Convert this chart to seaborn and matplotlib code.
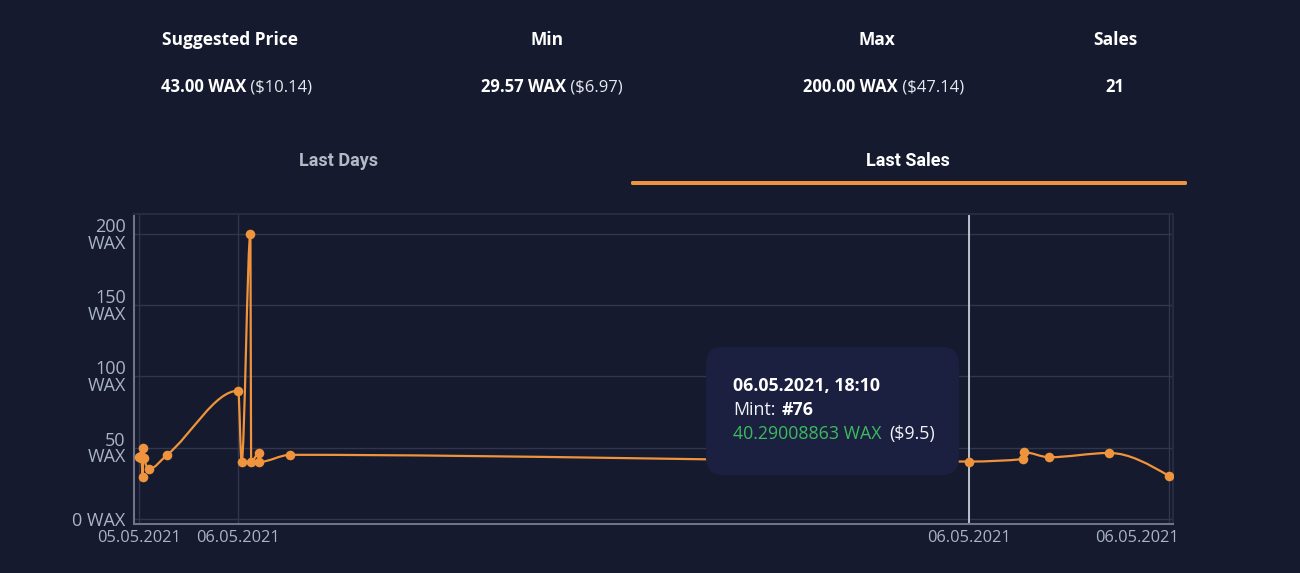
import numpy as np
import pandas as pd
import seaborn as sns
import matplotlib
matplotlib.use("Agg")
from matplotlib import pyplot as plt
import matplotlib.dates as mdates
from matplotlib.path import Path
from matplotlib.patches import PathPatch, FancyBboxPatch
from matplotlib.transforms import IdentityTransform, ScaledTranslation

###############################################################################
# Data

sale_times = ["2021-05-05 21:43", "2021-05-05 21:46", "2021-05-05 21:47",
              "2021-05-05 21:49", "2021-05-05 21:50", "2021-05-05 21:51",
              "2021-05-05 21:58", "2021-05-05 22:25", "2021-05-06 00:10",
              "2021-05-06 00:15", "2021-05-06 00:28", "2021-05-06 00:29",
              "2021-05-06 00:40", "2021-05-06 00:41", "2021-05-06 01:27",
              "2021-05-06 18:10", "2021-05-06 19:30", "2021-05-06 19:31",
              "2021-05-06 20:08", "2021-05-06 21:37", "2021-05-06 23:05"]
sale_prices = [43.5, 44.5, 42.5, 29.57, 50.0, 43.0, 35.0, 45.0, 90.0, 40.0,
               200.0, 40.0, 46.0, 40.0, 45.0, 40.29, 42.0, 46.8, 43.3, 46.3,
               30.2]

x_tick_index = [0, 8, 15, 20]
hover_index = 15
y_ticks = [0, 50, 100, 150, 200]
y_tick_labels = ["0 WAX", "50\nWAX", "100\nWAX", "150\nWAX", "200\nWAX"]
x_limits = ["2021-05-05 21:36", "2021-05-06 23:11"]
y_limits = [-3.2, 214]

stat_titles = ["Suggested Price", "Min", "Max", "Sales"]
stat_bold = ["43.00 WAX", "29.57 WAX", "200.00 WAX", "21"]
stat_usd = [" ($10.14)", " ($6.97)", " ($47.14)", ""]
tabs = ["Last Days", "Last Sales"]

tooltip_date = "06.05.2021, 18:10"
tooltip_mint = "#76"
tooltip_wax = "40.29008863 WAX"
tooltip_usd = "($9.5)"

###############################################################################
BG = "#151a2e"
ORANGE = "#ef943c"
TICK_C = "#a9b3c9"
GRID_C = "#30364d"

sns.set_theme(style="dark")
plt.rcParams["font.family"] = ["Open Sans", "DejaVu Sans"]

df = pd.DataFrame({"time": pd.to_datetime(sale_times), "price": sale_prices})

fig = plt.figure(figsize=(13, 5.73), dpi=100, facecolor=BG)
ax = fig.add_axes([134 / 1300, 1 - 523.5 / 573, 1039 / 1300, 309.5 / 573])
ax.set_facecolor(BG)


def monotone_path(x, y):
    # cubic bezier path, same shape as a monotone-x curve
    n = len(x)
    h = np.diff(x)
    s = np.diff(y) / h
    t = np.zeros(n)
    for i in range(1, n - 1):
        h0, h1, s0, s1 = h[i - 1], h[i], s[i - 1], s[i]
        p = (s0 * h1 + s1 * h0) / (h0 + h1)
        t[i] = (np.sign(s0) + np.sign(s1)) * min(abs(s0), abs(s1), 0.5 * abs(p))
    t[0] = (3 * s[0] - t[1]) / 2
    t[-1] = (3 * s[-1] - t[-2]) / 2
    verts = [(x[0], y[0])]
    codes = [Path.MOVETO]
    for i in range(n - 1):
        d = h[i] / 3
        verts += [(x[i] + d, y[i] + d * t[i]),
                  (x[i + 1] - d, y[i + 1] - d * t[i + 1]),
                  (x[i + 1], y[i + 1])]
        codes += [Path.CURVE4] * 3
    return Path(verts, codes)


xnum = mdates.date2num(df["time"])
ax.add_patch(PathPatch(monotone_path(xnum, df["price"].to_numpy()),
                       fill=False, edgecolor=ORANGE, lw=1.6, zorder=3))
sns.scatterplot(data=df, x="time", y="price", ax=ax, color=ORANGE, s=48,
                linewidth=0, zorder=4, legend=False)

ax.set_xlim(pd.to_datetime(x_limits))
ax.set_ylim(y_limits)
ax.set_yticks(y_ticks)
ax.set_yticklabels(y_tick_labels, linespacing=0.9, fontsize=13)
tick_times = df["time"].iloc[x_tick_index]
ax.set_xticks(tick_times)
ax.set_xticklabels([t.strftime("%d.%m.%Y") for t in tick_times],
                   fontsize=11.8)
ax.set_xlabel("")
ax.set_ylabel("")
ax.tick_params(length=4, width=1, direction="out", pad=2)
ax.tick_params(axis="x", colors="#6f7587", labelcolor=TICK_C, pad=1)
ax.tick_params(axis="y", colors="#6f7587", labelcolor=TICK_C)
# the last date label is pushed left so it stays inside the card
last = ax.get_xticklabels()[-1]
last.set_horizontalalignment("right")
last.set_transform(last.get_transform()
                   + ScaledTranslation(0.10, 0, fig.dpi_scale_trans))
ax.grid(True, color=GRID_C, lw=1)
for side in ["top", "right"]:
    ax.spines[side].set_color("#262b42")
    ax.spines[side].set_linewidth(1.5)
for side in ["left", "bottom"]:
    ax.spines[side].set_color("#6f7587")
    ax.spines[side].set_linewidth(1.5)

# hover crosshair
ax.axvline(df["time"].iloc[hover_index], color="#c9cdd8", lw=1.3, zorder=2)


###############################################################################
# Header, tabs and tooltip (pixel positions measured from the top-left)
def fx(px):
    return px / 1300


def fy(py):
    return 1 - py / 573


stat_x = [230, 547, 877, 1115]
split_x = [246, 566, 898, 1115]
for i, title in enumerate(stat_titles):
    fig.text(fx(stat_x[i]), fy(40), title, color="white", fontsize=12.5,
             fontweight="bold", ha="center", va="center")
    if stat_usd[i]:
        fig.text(fx(split_x[i]), fy(87), stat_bold[i], color="white",
                 fontsize=12, fontweight="bold", ha="right", va="center")
        fig.text(fx(split_x[i]), fy(87), stat_usd[i], color="#e6e8ef",
                 fontsize=12, ha="left", va="center")
    else:
        fig.text(fx(stat_x[i]), fy(87), stat_bold[i], color="white",
                 fontsize=12, fontweight="bold", ha="center", va="center")

fig.text(fx(339), fy(161), tabs[0], color="#b5b9c6", fontsize=13,
         fontweight="bold", ha="center", va="center", family="Roboto")
fig.text(fx(908), fy(161), tabs[1], color="white", fontsize=13,
         fontweight="bold", ha="center", va="center", family="Roboto")
fig.add_artist(FancyBboxPatch((631, 573 - 185), 556, 4,
                              boxstyle="round,pad=0,rounding_size=1.5",
                              transform=IdentityTransform(),
                              facecolor=ORANGE, edgecolor="none"))

fig.add_artist(FancyBboxPatch((706, 573 - 475), 253, 128,
                              boxstyle="round,pad=0,rounding_size=17",
                              transform=IdentityTransform(),
                              facecolor="#1b2040", edgecolor="none",
                              zorder=5))
fig.text(fx(733), fy(386), tooltip_date, color="white", fontsize=12.8,
         fontweight="bold", ha="left", va="center", zorder=6)
fig.text(fx(733), fy(410), "Mint:", color="#f2f3f7", fontsize=12.8,
         ha="left", va="center", zorder=6)
fig.text(fx(782), fy(410), tooltip_mint, color="white", fontsize=12.8,
         fontweight="bold", ha="left", va="center", zorder=6)
fig.text(fx(733), fy(434), tooltip_wax, color="#3dba5e", fontsize=12.8,
         ha="left", va="center", zorder=6)
fig.text(fx(889), fy(434), tooltip_usd, color="#f2f3f7", fontsize=12.8,
         ha="left", va="center", zorder=6)

fig.savefig("out.png", dpi=100, facecolor=BG)
